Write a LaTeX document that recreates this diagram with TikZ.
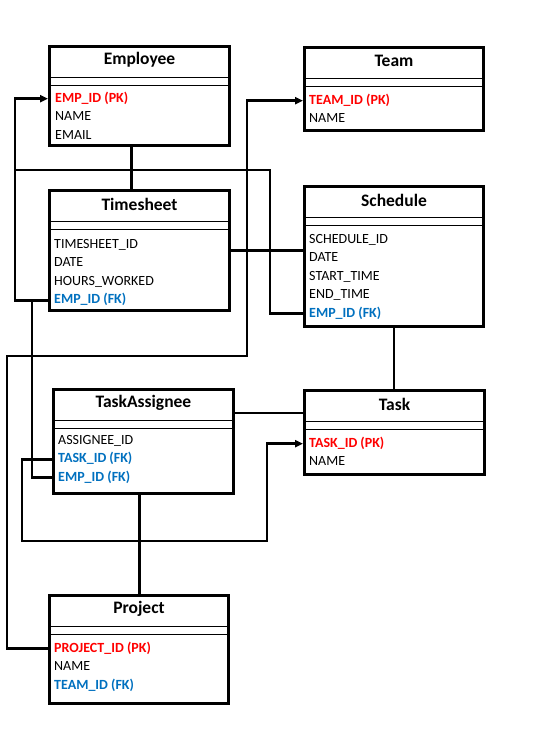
\documentclass[tikz,border=0pt]{standalone}
\usepackage{fontspec}
\setmainfont{Carlito}
\usetikzlibrary{matrix, positioning, arrows.meta}
\definecolor{pkred}{rgb}{1.0, 0.0, 0.0}
\definecolor{fkblue}{rgb}{0.0, 0.44, 0.75}

\begin{document}
\begin{tikzpicture}[
  x=1pt,
  y=-1pt,
  table/.style={
    draw,
    line width=3pt,
    inner sep=0mm,
    anchor=north west,
    minimum width=180pt
  },
  title/.style={
    font=\bfseries\fontsize{17.5}{20}\selectfont,
    inner sep=0mm
  },
  header line/.style={
    line width=1pt
  },
  attributes/.style={
    matrix of nodes,
    anchor=north west,
    row sep=5.5pt,
    inner sep=0mm,
    nodes={
      inner sep=0mm,
      text height=10pt,
      text depth=3pt,
      font=\fontsize{14}{17}\selectfont
    },
    column 1/.style={anchor=base west}
  },
  pk/.style={
    text=pkred,
    font=\bfseries\fontsize{14}{17}\selectfont
  },
  fk/.style={
    text=fkblue,
    font=\bfseries\fontsize{14}{17}\selectfont
  },
  link/.style={
    line width=2.7pt
  },
  ref arrow/.style={
    link,
    -{Triangle[length=8pt, width=7pt]}
  }
]

\useasboundingbox (0,0) rectangle (545,752);

\node(employee)[table, minimum height=99pt] at (48,45) {};
\node(team)[table, minimum height=83pt, minimum width=179pt] at (303,46) {};
\node(timesheet)[table, minimum height=120pt] at (48,189) {};
\node(schedule)[table, minimum height=140pt, minimum width=179pt] at (303,185) {};
\node(taskassignee)[table, minimum height=104pt] at (52,388) {};
\node(task)[table, minimum height=84pt] at (303,389) {};
\node(project)[table, minimum height=108pt, minimum width=179pt] at (48,594) {};

\foreach \t/\name in {employee/Employee, team/Team, timesheet/Timesheet, schedule/Schedule,
                      taskassignee/TaskAssignee, task/Task, project/Project} {
  \node(\t-title)[title] at ([yshift=-15pt]\t.north) {\name};
  \draw[header line] ([yshift=-32pt]\t.north west) -- ([yshift=-32pt]\t.north east);
  \draw[header line] ([yshift=-40pt]\t.north west) -- ([yshift=-40pt]\t.north east);
}

\matrix[attributes] (emp-m) at ([xshift=7pt, yshift=-47pt]employee.north west) {
    |[pk]| EMP\_ID (PK) \\
    NAME \\
    EMAIL \\
};

\matrix[attributes] (team-m) at ([xshift=6pt, yshift=-48pt]team.north west) {
    |[pk]| TEAM\_ID (PK) \\
    NAME \\
};

\matrix[attributes] (ts-m) at ([xshift=6pt, yshift=-49pt]timesheet.north west) {
    TIMESHEET\_ID \\
    DATE \\
    HOURS\_WORKED \\
    |[fk]| EMP\_ID (FK) \\
};

\matrix[attributes] (sch-m) at ([xshift=6pt, yshift=-48pt]schedule.north west) {
    SCHEDULE\_ID \\
    DATE \\
    START\_TIME \\
    END\_TIME \\
    |[fk]| EMP\_ID (FK) \\
};

\matrix[attributes] (ta-m) at ([xshift=6pt, yshift=-46pt]taskassignee.north west) {
    ASSIGNEE\_ID \\
    |[fk]| TASK\_ID (FK) \\
    |[fk]| EMP\_ID (FK) \\
};

\matrix[attributes] (task-m) at ([xshift=6pt, yshift=-48pt]task.north west) {
    |[pk]| TASK\_ID (PK) \\
    NAME \\
};

\matrix[attributes] (proj-m) at ([xshift=6pt, yshift=-48pt]project.north west) {
    |[pk]| PROJECT\_ID (PK) \\
    NAME \\
    |[fk]| TEAM\_ID (FK) \\
};

\coordinate (emp bus) at (15,170);
\coordinate (sched bend) at (270,170);
\coordinate[left=16pt of timesheet.west |- ts-m-4-1] (ts joint);
\coordinate (team bus) at (7,356);
\coordinate (team riser) at (247,356);
\coordinate (task loop) at (22,541);
\coordinate (task riser) at (267,541);

\draw[link] ([xshift=-8pt]employee.south) -- ([xshift=-8pt]employee.south |- timesheet.north);
\draw[ref arrow] (timesheet.west |- ts-m-4-1) -| (emp bus) |- (employee.west |- emp-m-1-1);
\draw[link] (schedule.west |- sch-m-5-1) -| (sched bend) -- (emp bus);
\draw[link] (timesheet.east) -- (timesheet.east -| schedule.west);
\draw[ref arrow] (project.west |- proj-m-1-1) -| (team bus) -- (team riser) |- (team.west |- team-m-1-1);
\draw[link] (schedule.south) -- (schedule.south |- task.north);
\draw[link] ([yshift=-25pt]taskassignee.north east) -- ([yshift=-25pt]taskassignee.north east -| task.west);
\draw[link] (taskassignee.west |- ta-m-3-1) -| (ts joint);
\draw[ref arrow] (taskassignee.west |- ta-m-2-1) -| (task loop) -- (task riser) |- (task.west |- task-m-1-1);
\draw[link] ([xshift=-4pt]taskassignee.south) -- ([xshift=-4pt]taskassignee.south |- project.north);

\end{tikzpicture}
\end{document}
